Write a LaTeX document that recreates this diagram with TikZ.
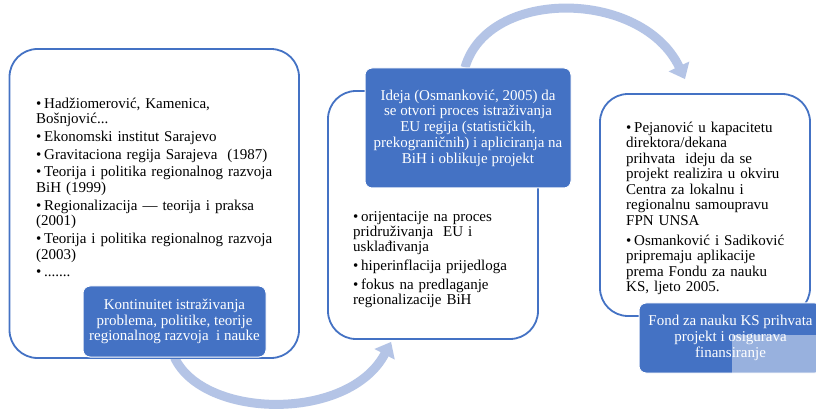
\documentclass[tikz,border=0pt]{standalone}
\usepackage{fontspec}
\setmainfont{Liberation Serif}
\usetikzlibrary{arrows.meta,backgrounds}
\definecolor{boxblue}{RGB}{68,114,196}
\definecolor{arrowblue}{RGB}{180,196,230}
\newcommand{\bitem}[1]{\par\hangindent=8pt\hangafter=1\noindent\makebox[8pt][l]{\textbullet}#1\par}
\begin{document}
\begin{tikzpicture}[x=1pt,y=-1pt,
  bigbox/.style={draw=boxblue,line width=1.8pt,fill=white,rounded corners=28pt,inner sep=0pt},
  bluebox/.style={fill=boxblue,draw=white,line width=1pt,rounded corners=7pt,inner sep=0pt,text=white,align=center,font=\fontsize{15}{15.7}\selectfont},
  listtext/.style={anchor=north west,inner sep=0pt,text width=#1,align=left},
  flow/.style={draw=arrowblue,line width=9pt,-{Triangle[width=22pt,length=14pt]}}
]
\useasboundingbox (0,0) rectangle (816,411);
\clip (0,0) rectangle (816,411);

% outer boxes
\node[bigbox,minimum width=289.5pt,minimum height=309pt] (b1) at (154.25,203.5) {};
\node[bigbox,minimum width=210pt,minimum height=248pt] (b2) at (433,215) {};
\node[bigbox,minimum width=210pt,minimum height=222pt] (b3) at (705,205) {};

% list texts
\node[listtext=262pt,font=\fontsize{15}{15.7}\selectfont] (t1) at (36,90.5) {\setlength{\parskip}{1.9pt}%
\bitem{Hadžiomerović, Kamenica,\\Bošnjović...}
\bitem{Ekonomski institut Sarajevo}
\bitem{Gravitaciona regija Sarajeva \ (1987)}
\bitem{Teorija i politika regionalnog razvoja\\BiH (1999)}
\bitem{Regionalizacija — teorija i praksa\\(2001)}
\bitem{Teorija i politika regionalnog razvoja\\(2003)}
\bitem{.......}};

\node[listtext=180pt,font=\fontsize{15}{15.3}\selectfont] (t2) at (353,202.5) {\setlength{\parskip}{3.3pt}%
\bitem{orijentacije na proces\\pridruživanja \ EU i\\usklađivanja}
\bitem{hiperinflacija prijedloga}
\bitem{fokus na predlaganje\\regionalizacije BiH}};

\node[listtext=180pt,font=\fontsize{15}{15.5}\selectfont] (t3) at (626,111.8) {\setlength{\parskip}{4.6pt}%
\bitem{Pejanović u kapacitetu\\direktora/dekana\\prihvata \ ideju da se\\projekt realizira u okviru\\Centra za lokalnu i\\regionalnu samoupravu\\FPN UNSA}
\bitem{Osmanković i Sadiković\\pripremaju aplikacije\\prema Fondu za nauku\\KS, ljeto 2005.}};

% blue boxes
\node[bluebox,minimum width=183pt,minimum height=71pt] (k1) at (174.5,321.5)
  {Kontinuitet istraživanja\\problema, politike, teorije\\regionalnog razvoja \ i nauke};
\node[bluebox,minimum width=206pt,minimum height=120pt] (k2) at (468,128)
  {Ideja (Osmanković, 2005) da\\se otvori proces istraživanja\\EU regija (statističkih,\\prekograničnih) i apliciranja na\\BiH i oblikuje projekt};
\node[bluebox,minimum width=183pt,minimum height=70pt] (k3) at (730.5,338)
  {Fond za nauku KS prihvata\\projekt i osigurava\\finansiranje};

% light overlay square
\fill[white,opacity=0.45] (732,335) rectangle (816,411);

% connectors behind the boxes
\begin{pgfonlayer}{background}
\fill[white] (0,0) rectangle (816,411);
\draw[flow] (k1.south) .. controls +(29,62) and +(-42,80) .. ([xshift=64pt,yshift=-2pt]b2.south west);
\draw[flow] ([xshift=-3pt]k2.north) .. controls +(23,-80) and +(-43,-90) .. ([xshift=-20pt,yshift=14pt]b3.north);
\end{pgfonlayer}
\end{tikzpicture}
\end{document}
